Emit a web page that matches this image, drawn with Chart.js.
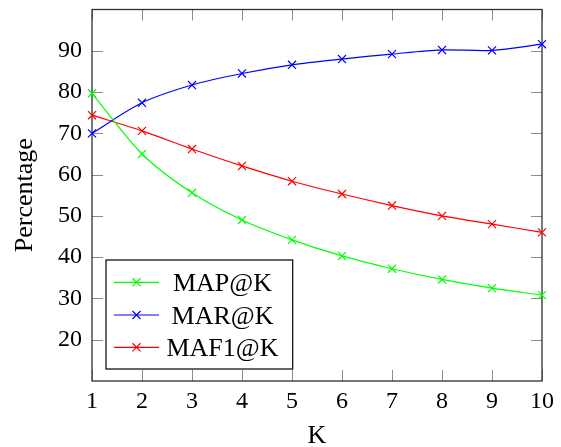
<!DOCTYPE html>
<html><head><meta charset="utf-8">
<script src="https://cdn.jsdelivr.net/npm/chart.js@4.4.1/dist/chart.umd.min.js"></script>
<style>html,body{margin:0;padding:0;background:#fff}#wrap{width:561px;height:447px}
#probe{position:absolute;left:-9999px;top:0;font-family:'Liberation Serif';}</style>
</head><body><div id="probe">MAP@K Percentage 0123456789</div><div id="wrap"><canvas id="c" width="561" height="447"></canvas></div>
<script>
const kValues = [1, 2, 3, 4, 5, 6, 7, 8, 9, 10];
const mapAtK = [79.7, 65.0, 55.6, 49.0, 44.2, 40.3, 37.2, 34.6, 32.5, 30.8];
const marAtK = [70.0, 77.4, 81.7, 84.5, 86.6, 88.0, 89.2, 90.2, 90.1, 91.6];
const maf1AtK = [74.4, 70.6, 66.2, 62.1, 58.4, 55.3, 52.5, 50.0, 48.0, 46.0];
const seriesNames = ['MAP@K', 'MAR@K', 'MAF1@K'];
const seriesColors = ['#00ff00', '#0000ff', '#ff0000'];
const yTickValues = [20, 30, 40, 50, 60, 70, 80, 90];
const xTickValues = [1, 2, 3, 4, 5, 6, 7, 8, 9, 10];
const xTitle = 'K';
const yTitle = 'Percentage';

function pickSerif() {
  const c = document.createElement('canvas').getContext('2d');
  c.font = '40px monospace';
  const base = c.measureText('MAP@K Percentage 0123').width;
  const cands = ['Liberation Serif', 'Times New Roman', 'Tinos', 'Nimbus Roman', 'Times'];
  for (const f of cands) {
    c.font = '40px "' + f + '", monospace';
    if (Math.abs(c.measureText('MAP@K Percentage 0123').width - base) > 1) return '"' + f + '", serif';
  }
  return 'serif';
}

function build() {
  const FONT = pickSerif();
  Chart.defaults.color = '#000';
  Chart.defaults.font.family = FONT;
  const MARK = 5.7;

  const seriesValues = [mapAtK, marAtK, maf1AtK];
  const datasets = seriesValues.map((vals, s) => ({
    label: seriesNames[s],
    data: kValues.map((k, i) => ({x: k, y: vals[i]})),
    borderColor: seriesColors[s],
    backgroundColor: seriesColors[s],
    borderWidth: 1.2,
    pointStyle: 'crossRot',
    pointRadius: MARK,
    pointBorderWidth: 1.2,
    pointHoverRadius: MARK,
    tension: 0.3,
    fill: false,
    clip: false
  }));

  const frame = {
    id: 'frame',
    beforeDatasetsDraw(chart) {
      const {ctx, chartArea: a, scales: {x, y}} = chart;
      ctx.save();
      ctx.strokeStyle = '#8c8c8c';
      ctx.lineWidth = 1;
      const tl = 11;
      xTickValues.forEach(v => {
        const px = Math.round(x.getPixelForValue(v)) + 0.5;
        ctx.beginPath();
        ctx.moveTo(px, a.bottom); ctx.lineTo(px, a.bottom - tl);
        ctx.moveTo(px, a.top); ctx.lineTo(px, a.top + tl);
        ctx.stroke();
      });
      yTickValues.forEach(v => {
        const py = Math.round(y.getPixelForValue(v)) + 0.5;
        ctx.beginPath();
        ctx.moveTo(a.left, py); ctx.lineTo(a.left + tl, py);
        ctx.moveTo(a.right, py); ctx.lineTo(a.right - tl, py);
        ctx.stroke();
      });
      ctx.strokeStyle = '#303030';
      ctx.lineWidth = 1.3;
      ctx.strokeRect(a.left, a.top, a.right - a.left, a.bottom - a.top);
      ctx.restore();
    },
    afterDatasetsDraw(chart) {
      const {ctx} = chart;
      const box = {l: 106, t: 260, r: 292.7, b: 369};
      const rows = [282.3, 315, 347.3];
      ctx.save();
      ctx.fillStyle = '#fff';
      ctx.fillRect(box.l, box.t, box.r - box.l, box.b - box.t);
      ctx.strokeStyle = '#000';
      ctx.lineWidth = 1.2;
      ctx.strokeRect(box.l, box.t, box.r - box.l, box.b - box.t);
      chart.data.datasets.forEach((ds, i) => {
        const yy = rows[i];
        ctx.strokeStyle = ds.borderColor;
        ctx.lineWidth = 1.2;
        ctx.beginPath(); ctx.moveTo(114, yy); ctx.lineTo(159, yy); ctx.stroke();
        const cx = 136.5, r = MARK * Math.SQRT1_2;
        ctx.beginPath();
        ctx.moveTo(cx - r, yy - r); ctx.lineTo(cx + r, yy + r);
        ctx.moveTo(cx - r, yy + r); ctx.lineTo(cx + r, yy - r);
        ctx.stroke();
        ctx.fillStyle = '#000';
        ctx.font = '26px ' + FONT;
        ctx.textAlign = 'center';
        ctx.textBaseline = 'alphabetic';
        ctx.fillText(ds.label, 222.5, yy + 8.5);
      });
      ctx.restore();
    }
  };

  new Chart(document.getElementById('c'), {
    type: 'line',
    data: {datasets},
    options: {
      responsive: false,
      animation: false,
      devicePixelRatio: 1,
      layout: {padding: {left: 0, right: 19, top: 9.5, bottom: 0}},
      plugins: {legend: {display: false}, tooltip: {enabled: false}},
      scales: {
        x: {
          type: 'linear', min: 1, max: 10,
          afterFit(s) { s.height = 66; s.paddingLeft = 0; s.paddingRight = 0; },
          grid: {display: false, drawTicks: false},
          border: {display: false},
          ticks: {stepSize: 1, padding: 6, font: {size: 24, family: FONT}, color: '#000'},
          afterBuildTicks(s) { s.ticks = xTickValues.map(v => ({value: v})); },
          title: {display: true, text: xTitle, font: {size: 26, family: FONT, lineHeight: 0.85}, padding: 0, color: '#000'}
        },
        y: {
          type: 'linear', min: 10, max: 100,
          afterFit(s) { s.width = 92; s.paddingTop = 0; s.paddingBottom = 0; },
          grid: {display: false, drawTicks: false},
          border: {display: false},
          ticks: {padding: 10, font: {size: 24, family: FONT}, color: '#000'},
          afterBuildTicks(s) { s.ticks = yTickValues.map(v => ({value: v})); },
          title: {display: true, text: yTitle, font: {size: 26, family: FONT, lineHeight: 1}, padding: {top: 12, bottom: 0}, color: '#000'}
        }
      }
    },
    plugins: [frame]
  });
}

const go = () => build();
if (document.fonts && document.fonts.load) {
  Promise.all([
    document.fonts.load('24px "Liberation Serif"'),
    document.fonts.load('24px "Times New Roman"')
  ]).then(go, go);
} else go();
</script>
</body></html>
